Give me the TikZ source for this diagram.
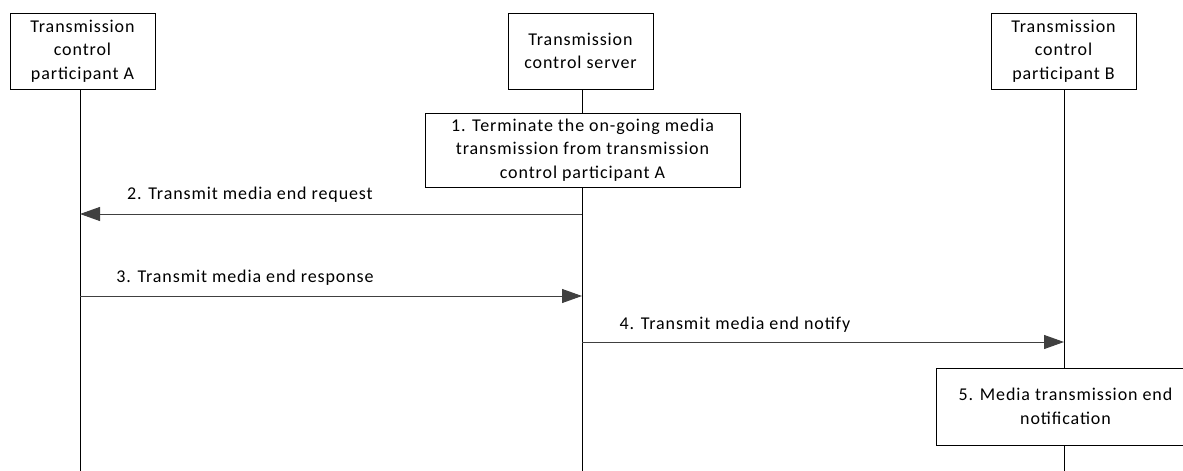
\documentclass[tikz,border=0pt]{standalone}
\usepackage{fontspec}
\setmainfont{Carlito}[LetterSpace=5]
\usetikzlibrary{arrows.meta}
\begin{document}
\begin{tikzpicture}[x=1pt,y=-1pt,
  box/.style={draw=black,line width=1pt,fill=white,align=center,inner sep=0pt,font=\fontsize{18}{23.5}\selectfont},
  life/.style={draw=black,line width=1pt},
  msg/.style={draw=black!75,line width=1pt,-{Triangle[length=20pt,width=14pt]}},
  lbl/.style={font=\fontsize{18}{22}\selectfont,anchor=base}]
\useasboundingbox (0,0) rectangle (1183,471);
\node[box,minimum width=145pt,minimum height=76pt] (A) at (82.5,51) {Transmission\\control\\participant A};
\node[box,minimum width=145pt,minimum height=76pt] (S) at (580.5,51) {Transmission\\control server};
\node[box,minimum width=145pt,minimum height=76pt] (B) at (1063.5,51) {Transmission\\control\\participant B};
\coordinate (Aend) at (80,471);
\coordinate (Send) at (582,471);
\coordinate (Bend) at (1064,471);
\draw[life] (80,89) -- (Aend);
\draw[life] (582,89) -- (Send);
\draw[life] (1064,89) -- (Bend);
\node[box,minimum width=315pt,minimum height=74pt] (s1) at (582.5,150) {1. Terminate the on-going media\\transmission from transmission\\control participant A};
\node[box,minimum width=259pt,minimum height=77pt] (s5) at (1065.5,406.5) {5. Media transmission end\\notification};
\coordinate (a2) at (80,214); \coordinate (s2) at (582,214);
\coordinate (a3) at (80,296); \coordinate (s3) at (582,296);
\coordinate (s4) at (582,342); \coordinate (b4) at (1064,342);
\draw[msg] (s2) -- (a2);
\node[lbl] (l2) at (250,199) {2. Transmit media end request};
\draw[msg] (a3) -- (s3);
\node[lbl] (l3) at (245,282) {3. Transmit media end response};
\draw[msg] (s4) -- (b4);
\node[lbl] (l4) at (735,329) {4. Transmit media end notify};
\end{tikzpicture}
\end{document}
